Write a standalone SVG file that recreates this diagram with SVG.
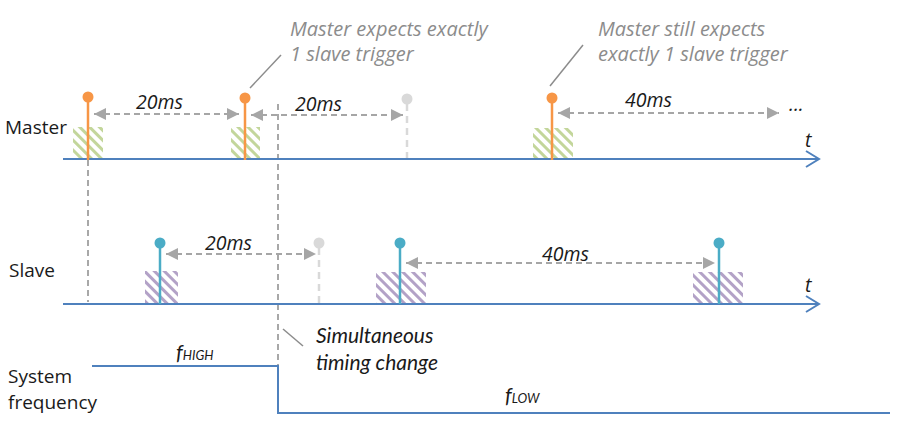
<svg xmlns="http://www.w3.org/2000/svg" width="911" height="422" viewBox="0 0 911 422">
<style>
.axis{stroke:#4F81BD;stroke-width:2;fill:none}
.lbl{font-family:"Open Sans","DejaVu Sans",sans-serif;font-size:19px;fill:#1a1a1a}
.dur{font-family:"Open Sans","DejaVu Sans",sans-serif;font-size:19.5px;font-style:italic;fill:#1a1a1a}
.note{font-family:"Open Sans","DejaVu Sans",sans-serif;font-size:20px;font-style:italic;fill:#8c8c8c}
.cal{font-family:Lato,"Open Sans",sans-serif;font-size:21px;font-style:italic;fill:#1a1a1a}
.sub{font-size:13px}
.vd{stroke:#8c8c8c;stroke-width:1.5;stroke-dasharray:6 4;fill:none}
.arr{stroke:#A6A6A6;stroke-width:2;stroke-dasharray:6 4;fill:none}
.ms{stroke:#F79646;stroke-width:2.5}
.msd{fill:#F79646}
.sl{stroke:#4BACC6;stroke-width:2.5}
.sld{fill:#4BACC6}
.gh{stroke:#D9D9D9;stroke-width:2.5;stroke-dasharray:7 5}
.ghd{fill:#D9D9D9}
.lead{stroke:#8c8c8c;stroke-width:1.5}
</style>
<defs>
<pattern id="hg" width="7" height="7" patternUnits="userSpaceOnUse" patternTransform="rotate(-45)">
<rect width="7" height="7" fill="#fff"/>
<line x1="1.5" y1="0" x2="1.5" y2="7" stroke="#C3D69B" stroke-width="3"/>
</pattern>
<pattern id="hp" width="7" height="7" patternUnits="userSpaceOnUse" patternTransform="rotate(-45)">
<rect width="7" height="7" fill="#fff"/>
<line x1="1.5" y1="0" x2="1.5" y2="7" stroke="#B3A2C7" stroke-width="3"/>
</pattern>
<marker id="ah" viewBox="0 0 10 10" refX="10" refY="5" markerWidth="12" markerHeight="12" markerUnits="userSpaceOnUse" orient="auto-start-reverse">
<path d="M0,0 L10,5 L0,10 z" fill="#A6A6A6"/>
</marker>
</defs>

<g id="labels">
<text class="lbl" x="5" y="134">Master</text>
<text class="lbl" x="9" y="277">Slave</text>
<text class="lbl" x="8" y="383">System</text>
<text class="lbl" x="8" y="409">frequency</text>
</g>

<g id="hatches">
<rect x="73" y="127" width="30" height="31" fill="url(#hg)"/>
<rect x="231" y="127" width="29" height="31" fill="url(#hg)"/>
<rect x="533" y="128" width="40" height="30" fill="url(#hg)"/>
<rect x="145" y="271" width="33" height="33" fill="url(#hp)"/>
<rect x="376" y="272" width="50" height="32" fill="url(#hp)"/>
<rect x="693" y="272" width="50" height="32" fill="url(#hp)"/>
</g>

<g id="connectors">
<line class="vd" x1="88" y1="160" x2="88" y2="302"/>
<line class="vd" x1="278" y1="104" x2="278" y2="366"/>
<line class="arr" x1="94" y1="114" x2="239" y2="114" marker-start="url(#ah)" marker-end="url(#ah)"/>
<line class="arr" x1="251" y1="115" x2="403" y2="115" marker-start="url(#ah)" marker-end="url(#ah)"/>
<line class="arr" x1="558" y1="113" x2="779" y2="113" marker-start="url(#ah)" marker-end="url(#ah)"/>
<line class="arr" x1="166" y1="254" x2="316" y2="254" marker-start="url(#ah)" marker-end="url(#ah)"/>
<line class="arr" x1="406" y1="263" x2="715" y2="263" marker-start="url(#ah)" marker-end="url(#ah)"/>
<line class="lead" x1="250" y1="88" x2="281" y2="55"/>
<line class="lead" x1="550" y1="86" x2="583" y2="45"/>
<line class="lead" x1="283" y1="329" x2="303" y2="346"/>
</g>

<g id="master-axis">
<line class="axis" x1="63" y1="159" x2="819" y2="159"/>
<polyline class="axis" points="806,151 819,159 806,167"/>
<text class="dur" x="805" y="147">t</text>
</g>
<g id="slave-axis">
<line class="axis" x1="63" y1="304" x2="819" y2="304"/>
<polyline class="axis" points="806,296 819,304 806,312"/>
<text class="dur" x="805" y="292">t</text>
</g>

<g id="master-trig-1"><line class="ms" x1="88" y1="97" x2="88" y2="160"/><circle class="msd" cx="88" cy="97" r="5.5"/></g>
<g id="master-trig-2"><line class="ms" x1="245" y1="98" x2="245" y2="160"/><circle class="msd" cx="245" cy="98" r="5.5"/></g>
<g id="master-ghost"><line class="gh" x1="407" y1="104" x2="407" y2="158"/><circle class="ghd" cx="407" cy="99" r="5.5"/></g>
<g id="master-trig-3"><line class="ms" x1="552" y1="98" x2="552" y2="160"/><circle class="msd" cx="552" cy="98" r="5.5"/></g>

<g id="slave-trig-1"><line class="sl" x1="160" y1="243" x2="160" y2="304"/><circle class="sld" cx="160" cy="243" r="5.5"/></g>
<g id="slave-ghost"><line class="gh" x1="319" y1="248" x2="319" y2="304"/><circle class="ghd" cx="319" cy="243" r="5.5"/></g>
<g id="slave-trig-2"><line class="sl" x1="400" y1="243" x2="400" y2="304"/><circle class="sld" cx="400" cy="243" r="5.5"/></g>
<g id="slave-trig-3"><line class="sl" x1="719" y1="243" x2="719" y2="304"/><circle class="sld" cx="719" cy="243" r="5.5"/></g>

<g id="durations">
<text class="dur" x="136" y="109">20ms</text>
<text class="dur" x="295" y="111">20ms</text>
<text class="dur" x="625" y="107">40ms</text>
<text class="dur" x="789" y="111">...</text>
<text class="dur" x="205" y="250">20ms</text>
<text class="dur" x="542" y="261">40ms</text>
</g>

<g id="notes">
<text class="note" x="290" y="36">Master expects exactly</text>
<text class="note" x="290" y="61">1 slave trigger</text>
<text class="note" x="598" y="36">Master still expects</text>
<text class="note" x="598" y="61">exactly 1 slave trigger</text>
<text class="cal" x="316" y="343">Simultaneous</text>
<text class="cal" x="316" y="370">timing change</text>
</g>

<g id="frequency">
<polyline class="axis" points="92,366 278,366 278,413 890,413"/>
<text class="cal" x="176" y="360">f<tspan class="sub">HIGH</tspan></text>
<text class="cal" x="505" y="403">f<tspan class="sub">LOW</tspan></text>
</g>
</svg>
